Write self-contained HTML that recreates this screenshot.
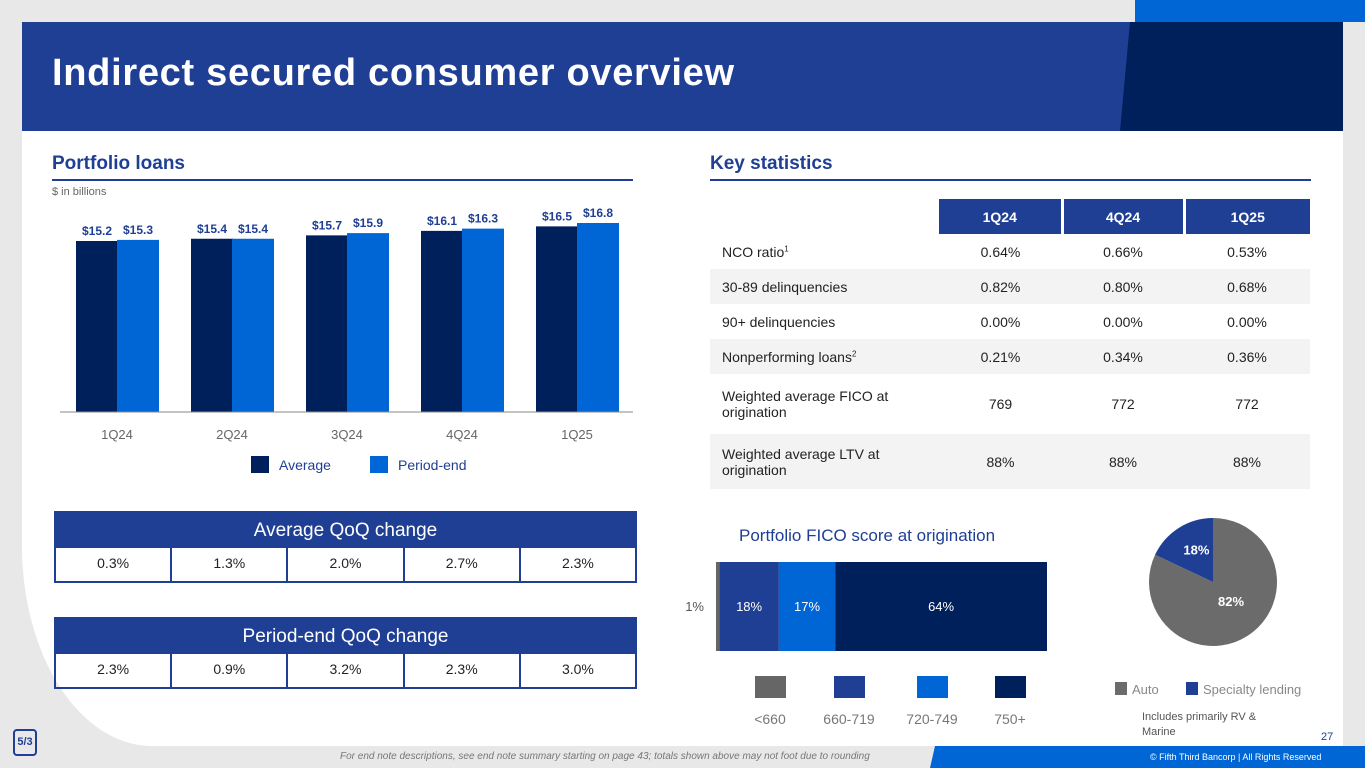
<!DOCTYPE html>
<html><head><meta charset="utf-8"><style>
*{margin:0;padding:0;box-sizing:border-box}
body{width:1365px;height:768px;overflow:hidden;background:#e8e8e8;font-family:"Liberation Sans",sans-serif;position:relative;color:#222}
.abs{position:absolute}
.panel{left:22px;top:22px;width:1321px;height:724px;background:#fff;border-bottom-left-radius:130px 200px}
.h2{font-weight:bold;font-size:19px;color:#1f3f94}
.rule{height:2px;background:#1f3f94}
table{border-collapse:collapse}
.ks td{font-size:14px;color:#222;text-align:center}
.ks td:first-child{text-align:left;padding-left:12px}
.ks tr.g td{background:#f3f3f3}
.qoq{border:2px solid #1f3f94;width:583px}
.qoq .hd{background:#1f3f94;color:#fff;font-size:19px;text-align:center;height:35px;line-height:35px}
.qoq .row{display:flex;height:33px}
.qoq .row div{flex:1;text-align:center;line-height:31px;font-size:14px;border-left:2px solid #1f3f94}
.qoq .row div:first-child{border-left:none}
</style></head><body>
<div class="abs" style="left:1135px;top:0;width:230px;height:22px;background:#0066d6"></div>
<div class="abs panel"></div>
<div class="abs" style="left:22px;top:22px;width:1321px;height:109px;background:#1f3f94"></div>
<svg class="abs" style="left:0;top:0" width="1365" height="768">
<polygon points="1130,22 1343,22 1343,131 1120,131" fill="#00205b"/>
<polygon points="935,746 1365,746 1365,768 930,768" fill="#0066d6"/>
</svg>
<div class="abs" style="left:52px;top:52px;font-size:38px;font-weight:bold;color:#fff;letter-spacing:0.7px">Indirect secured consumer overview</div>

<div class="abs h2" style="left:52px;top:153px">Portfolio loans</div>
<div class="abs rule" style="left:52px;top:179px;width:581px"></div>
<div class="abs" style="left:52px;top:186px;font-size:11px;color:#666">$ in billions</div>
<svg class="abs" id="bars" style="left:0;top:0" width="660" height="480"></svg>

<div class="abs qoq" style="left:54px;top:511px">
<div class="hd">Average QoQ change</div>
<div class="row"><div>0.3%</div><div>1.3%</div><div>2.0%</div><div>2.7%</div><div>2.3%</div></div></div>
<div class="abs qoq" style="left:54px;top:617px">
<div class="hd">Period-end QoQ change</div>
<div class="row"><div>2.3%</div><div>0.9%</div><div>3.2%</div><div>2.3%</div><div>3.0%</div></div></div>

<div class="abs h2" style="left:710px;top:153px">Key statistics</div>
<div class="abs rule" style="left:710px;top:179px;width:601px"></div>
<table class="abs ks" style="left:710px;top:199px;width:600px">
<tr style="height:35px"><td style="width:229px"></td><td style="background:#1f3f94;color:#fff;font-weight:bold;width:123px;border-right:3px solid #fff">1Q24</td><td style="background:#1f3f94;color:#fff;font-weight:bold;width:122px;border-right:3px solid #fff">4Q24</td><td style="background:#1f3f94;color:#fff;font-weight:bold">1Q25</td></tr>
<tr style="height:35px"><td>NCO ratio<sup style="font-size:8px">1</sup></td><td>0.64%</td><td>0.66%</td><td>0.53%</td></tr>
<tr class="g" style="height:35px"><td>30-89 delinquencies</td><td>0.82%</td><td>0.80%</td><td>0.68%</td></tr>
<tr style="height:35px"><td>90+ delinquencies</td><td>0.00%</td><td>0.00%</td><td>0.00%</td></tr>
<tr class="g" style="height:35px"><td>Nonperforming loans<sup style="font-size:8px">2</sup></td><td>0.21%</td><td>0.34%</td><td>0.36%</td></tr>
<tr style="height:60px"><td>Weighted average FICO at<br>origination</td><td>769</td><td>772</td><td>772</td></tr>
<tr class="g" style="height:55px"><td>Weighted average LTV at<br>origination</td><td>88%</td><td>88%</td><td>88%</td></tr>
</table>

<div class="abs" style="left:739px;top:526px;font-size:17px;color:#1f3f94">Portfolio FICO score at origination</div>
<svg class="abs" id="fico" style="left:0;top:0" width="1365" height="768"></svg>

<div class="abs" style="left:13px;top:729px;width:24px;height:27px;border:2px solid #1f3f94;border-radius:4px;font-size:11px;font-weight:bold;color:#1f3f94;text-align:center;line-height:23px">5/3</div>
<div class="abs" style="left:340px;top:751px;font-size:10px;font-style:italic;color:#777">For end note descriptions, see end note summary starting on page 43; totals shown above may not foot due to rounding</div>
<div class="abs" style="left:1150px;top:752px;font-size:9px;color:#fff">© Fifth Third Bancorp | All Rights Reserved</div>
<div class="abs" style="left:1321px;top:731px;font-size:11px;color:#1f3f94">27</div>
<div class="abs" style="left:1142px;top:710px;font-size:11px;color:#555;line-height:15px">Includes primarily RV &amp;<br>Marine</div>

<script>
const quarters=["1Q24","2Q24","3Q24","4Q24","1Q25"];
const avgVals=[15.2,15.4,15.7,16.1,16.5];
const endVals=[15.3,15.4,15.9,16.3,16.8];
const ficoCats=["<660","660-719","720-749","750+"];
const ficoVals=[1,18,17,64];
const pieCats=["Auto","Specialty lending"];
const pieVals=[82,18];
const NS="http://www.w3.org/2000/svg";
function mk(p,t,a){const e=document.createElementNS(NS,t);for(const k in a)e.setAttribute(k,a[k]);p.appendChild(e);return e;}
const sb=document.getElementById('bars');
const base=412,k=11.25;
const y=v=>base-v*k;
const gx=i=>76+i*115;
quarters.forEach((q,i)=>{
 [[avgVals[i],"#00205b",0],[endVals[i],"#0066d6",41]].forEach(([v,c,o],j)=>{
  const r=mk(sb,'rect',{x:gx(i)+o,y:y(v),width:42,height:v*k,fill:c});
  
  
  const t=mk(sb,'text',{x:gx(i)+o+21,y:y(v)-6,'text-anchor':'middle','font-size':12,'font-weight':'bold',fill:'#1f3f94'});
  t.textContent='$'+v.toFixed(1);
  
  
 });
 const l=mk(sb,'text',{x:gx(i)+41,y:439,'text-anchor':'middle','font-size':13,fill:'#666'});
 l.textContent=q;
 
 
});
mk(sb,'line',{x1:60,x2:633,y1:base,y2:base,stroke:'#888','stroke-width':1});
[["Average","#00205b",251],["Period-end","#0066d6",370]].forEach(([n,c,x])=>{
 const r=mk(sb,'rect',{x:x,y:456,width:18,height:17,fill:c});
 
 
 const t=mk(sb,'text',{x:x+28,y:470,'font-size':14,fill:'#1f3f94'});t.textContent=n;
 
 
});
const sf=document.getElementById('fico');
const fc=["#666666","#1f3f94","#0066d6","#00205b"];
const fx0=716,fw=331/100;let acc=0;
ficoVals.forEach((v,i)=>{
 const r=mk(sf,'rect',{x:fx0+acc*fw,y:562,width:v*fw,height:89,fill:fc[i]});
 
 
 const t=mk(sf,'text',{x:i==0?fx0-12:fx0+acc*fw+v*fw/2,y:611,'text-anchor':i==0?'end':'middle','font-size':13,fill:i==0?'#555':'#fff'});
 t.textContent=v+'%';
 
 
 acc+=v;
 const lx=[755,834,917,995][i];
 const s=mk(sf,'rect',{x:lx,y:676,width:31,height:22,fill:fc[i]});
 
 
 const lt=mk(sf,'text',{x:lx+15,y:724,'text-anchor':'middle','font-size':14,fill:'#777'});
 lt.textContent=ficoCats[i];
 
 
});
const cx=1213,cy=582,R=64;
const tot=pieVals.reduce((a,b)=>a+b,0);
const pc=["#6b6b6b","#1f3f94"];
let a0=-Math.PI/2;
pieVals.forEach((v,i)=>{
 const a1=a0+v/tot*2*Math.PI;
 const large=(a1-a0)>Math.PI?1:0;
 const p=mk(sf,'path',{d:`M${cx},${cy} L${cx+R*Math.cos(a0)},${cy+R*Math.sin(a0)} A${R},${R} 0 ${large} 1 ${cx+R*Math.cos(a1)},${cy+R*Math.sin(a1)} Z`,fill:pc[i]});
 
 
 const m=(a0+a1)/2,rr=i==0?0.35:0.6;
 const t=mk(sf,'text',{x:cx+R*rr*Math.cos(m)+(i==0?6:4),y:cy+R*rr*Math.sin(m)+5,'text-anchor':'middle','font-size':13,'font-weight':'bold',fill:'#fff'});
 t.textContent=v+'%';
 
 
 a0=a1;
});
[["Auto","#6b6b6b",1115],["Specialty lending","#1f3f94",1186]].forEach(([n,c,x])=>{
 const r=mk(sf,'rect',{x:x,y:682,width:12,height:13,fill:c});
 
 
 const t=mk(sf,'text',{x:x+17,y:694,'font-size':13,fill:'#888'});t.textContent=n;
 
 
});
</script>
</body></html>
